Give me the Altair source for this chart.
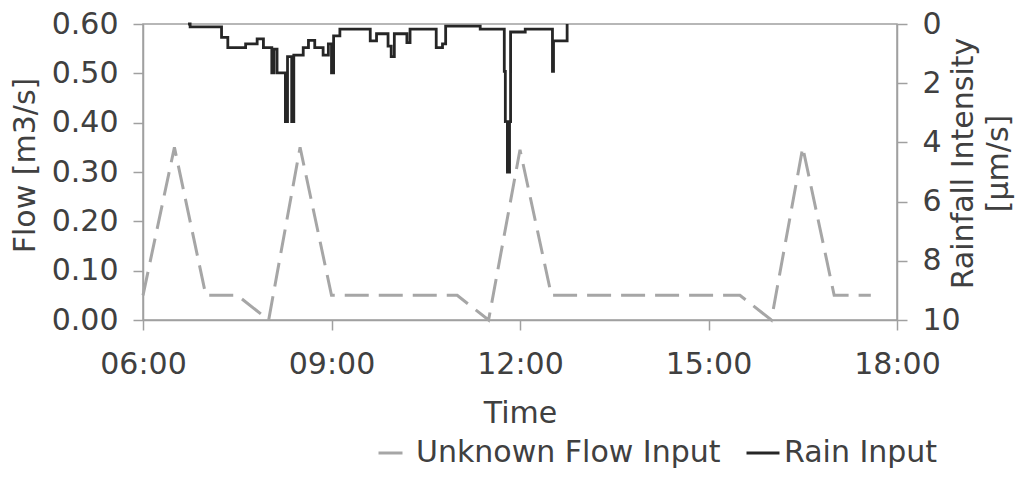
import altair as alt
import pandas as pd

# ---------------- data ----------------
series_names = ["Unknown Flow Input", "Rain Input"]
series_colors = ["#a6a6a6", "#262626"]

flow_times = ["06:00", "06:30", "07:00", "07:30", "08:00", "08:30", "09:00",
              "11:00", "11:30", "12:00", "12:30", "15:30", "16:00", "16:30",
              "17:00", "17:35"]
flow_values = [0.05, 0.35, 0.05, 0.05, 0.0, 0.35, 0.05,
               0.05, 0.0, 0.345, 0.05, 0.05, 0.0, 0.35,
               0.05, 0.05]

rain_times = ["06:43", "06:45", "07:15", "07:21", "07:38", "07:49", "07:55",
              "08:03", "08:05", "08:08", "08:16", "08:18", "08:22", "08:24",
              "08:33", "08:38", "08:44", "08:52", "08:57", "09:00", "09:02",
              "09:08", "09:37", "09:43", "09:54", "09:57", "10:00", "10:12",
              "10:15", "10:40", "10:46", "10:49", "11:22", "11:45", "11:46",
              "11:48", "11:50", "11:51", "12:05", "12:31", "12:32", "12:45"]
rain_values = [0.0, 0.1, 0.45, 0.8, 0.67, 0.5, 0.8,
               1.65, 0.85, 1.65, 3.3, 1.1, 3.3, 1.05,
               0.8, 0.55, 0.8, 1.05, 0.67, 1.65, 0.4,
               0.17, 0.57, 0.33, 0.75, 1.1, 0.33, 0.63,
               0.17, 0.8, 0.67, 0.07, 0.17, 1.6, 3.3,
               5.0, 3.3, 0.27, 0.17, 1.6, 0.57, 0.0]

x_ticks = ["06:00", "09:00", "12:00", "15:00", "18:00"]
flow_ticks = [0.0, 0.1, 0.2, 0.3, 0.4, 0.5, 0.6]
rain_ticks = [0, 2, 4, 6, 8, 10]

DAY = "2000-01-01T"


def dt(s):
    h, m = s.split(":")
    return alt.DateTime(year=2000, month=1, date=1, hours=int(h), minutes=int(m))


flow_df = pd.DataFrame({"time": [DAY + t + ":00" for t in flow_times],
                        "value": flow_values, "series": series_names[0]})
rain_df = pd.DataFrame({"time": [DAY + t + ":00" for t in rain_times],
                        "value": rain_values, "series": series_names[1]})

FONT = "DejaVu Sans"
TXT = "#404040"
GRAY = "#a0a0a0"

legend = alt.Legend(title=None, orient="none", legendX=234, legendY=411,
                    direction="horizontal", labelFontSize=30, labelFont=FONT,
                    labelColor=TXT, symbolType="stroke", symbolSize=1089,
                    symbolStrokeWidth=3, labelOffset=3, columnPadding=19,
                    padding=0, labelLimit=400)

color = alt.Color("series:N", scale=alt.Scale(domain=series_names, range=series_colors),
                  legend=legend)
dash = alt.StrokeDash("series:N", scale=alt.Scale(domain=series_names, range=[[24, 10], [1, 0]]),
                      legend=legend)

x_enc = alt.X("time:T",
              scale=alt.Scale(domain=[dt(x_ticks[0]), dt(x_ticks[-1])]),
              axis=alt.Axis(values=[dt(t) for t in x_ticks], format="%H:%M",
                            title="Time", labelBaseline="alphabetic", labelPadding=43,
                            labelFlush=False, labelOverlap=False,
                            titleBaseline="alphabetic", titleY=102, titleX=377,
                            titleAlign="center"))

flow = alt.Chart(flow_df).mark_line(strokeWidth=3).encode(
    x=x_enc,
    y=alt.Y("value:Q", scale=alt.Scale(domain=[0, 0.6]),
            axis=alt.Axis(values=flow_ticks, format=".2f", title="Flow [m3/s]",
                          labelPadding=15, titleAngle=270, titleBaseline="alphabetic",
                          titleX=-109, titleY=141, titleAlign="center")),
    color=color,
    strokeDash=dash,
)

rain = alt.Chart(rain_df).mark_line(strokeWidth=2.8, interpolate="step-after").encode(
    x=alt.X("time:T"),
    y=alt.Y("value:Q", scale=alt.Scale(domain=[0, 10], reverse=True),
            axis=alt.Axis(orient="right", values=rain_ticks, format="d",
                          title=["Rainfall Intensity", "[µm/s]"], labelPadding=15,
                          titleAngle=270, titleBaseline="alphabetic", titleX=75,
                          titleY=139, titleAlign="center", titleLineHeight=35)),
    color=color,
    strokeDash=dash,
)

chart = alt.layer(flow, rain).resolve_scale(y="independent").properties(
    width=754, height=296,
    autosize=alt.AutoSizeParams(type="none"),
    padding={"left": 135, "top": 16, "right": 119, "bottom": 150},
).configure_view(
    stroke=GRAY, strokeWidth=1.5
).configure_axis(
    grid=False, domainColor=GRAY, domainWidth=1.5, tickColor=GRAY, tickWidth=1.5,
    tickSize=10, labelFont=FONT, labelFontSize=30, labelColor=TXT,
    titleFont=FONT, titleFontSize=30, titleFontWeight="normal", titleColor=TXT,
)

chart.save("out.html", embed_options={"renderer": "svg", "actions": False})
